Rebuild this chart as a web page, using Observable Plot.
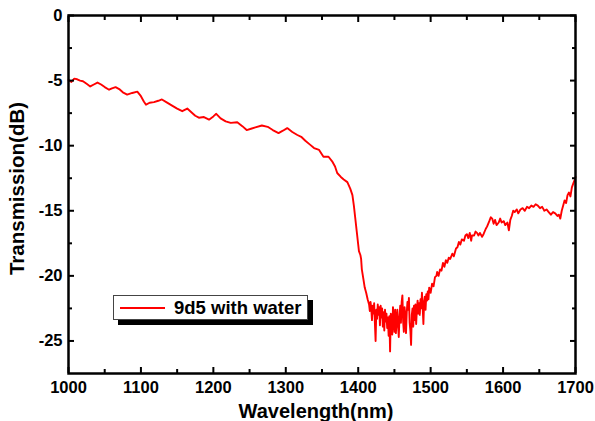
<!DOCTYPE html>
<html>
<head>
<meta charset="utf-8">
<script src="https://cdn.jsdelivr.net/npm/d3@7"></script>
<script src="https://cdn.jsdelivr.net/npm/@observablehq/plot@0.6"></script>
<style>
  html, body { margin: 0; padding: 0; background: #fff; }
  #wrap { position: relative; width: 595px; height: 421px; }
  #legend {
    position: absolute; left: 113px; top: 295px; width: 195px; height: 25px;
    border: 1px solid #444; background: #fff; box-shadow: 5px 5px 0 #000;
    font-family: "Liberation Sans", Arial, sans-serif; font-weight: bold; font-size: 18.5px;
    display: flex; align-items: center; box-sizing: border-box; white-space: nowrap;
  }
  #legend .sw { width: 45px; height: 0; border-top: 2px solid #ff0000; margin-left: 6px; margin-right: 9px; }
</style>
</head>
<body>
<div id="wrap"></div>
<script>
const seriesName = "9d5 with water";
const xTitle = "Wavelength(nm)";
const yTitle = "Transmission(dB)";

const wavelength = [
1000,1004,1008,1012,1016,1020,1025,1030,1035,1040,1045,1050,1056,1060,1065,1070,1075,1081,1088,1095,
1100,1104,1107,1112,1118,1124,1129,1135,1143,1150,1157,1164,1170,1175,1180,1187,1194,1200,1204,1210,
1217,1224,1233,1240,1246,1252,1258,1267,1275,1282,1290,1296,1302,1309,1316,1322,1327,1333,1339,1346,
1352,1359,1364,1368,1371,1376,1380,1385,1389,1392,1394,1396,1398,1400,1401,1403,1404,1405,1407,1409,
1411,1413,1415,1416,1417,1418,1419,1420,1421,1422,1423,1424,1425,1426,1427,1428,1429,1430,1431,1432,
1433,1434,1435,1436,1437,1438,1439,1440,1441,1442,1443,1444,1445,1446,1447,1448,1449,1450,1451,1452,
1453,1454,1455,1456,1457,1458,1459,1460,1461,1462,1463,1464,1465,1466,1467,1468,1469,1470,1471,1472,
1473,1474,1475,1476,1477,1478,1479,1480,1481,1482,1483,1484,1485,1486,1487,1488,1489,1490,1491,1492,
1493,1494,1495,1496,1497,1498,1500,1502,1504,1506,1508,1509,1511,1513,1515,1517,1519,1521,1523,1525,
1527,1530,1532,1535,1537,1539,1541,1543,1546,1548,1550,1552,1554,1556,1557,1560,1562,1564,1566,1568,
1571,1573,1576,1578,1581,1583,1585,1587,1589,1591,1594,1596,1598,1601,1603,1606,1608,1610,1612,1614,
1616,1619,1621,1624,1627,1630,1633,1636,1639,1642,1645,1648,1651,1654,1657,1660,1663,1666,1669,1672,
1675,1677,1679,1681,1683,1685,1687,1689,1691,1693,1695,1697,1699,1700
];
const transmission = [
-4.95,-5.1,-4.85,-4.9,-5.0,-5.05,-5.25,-5.45,-5.3,-5.15,-5.3,-5.5,-5.7,-5.6,-5.5,-5.65,-5.9,-6.08,-5.95,-5.85,
-6.2,-6.6,-6.85,-6.7,-6.65,-6.55,-6.45,-6.65,-6.92,-7.15,-7.35,-7.15,-7.45,-7.7,-7.85,-7.8,-8.0,-7.75,-7.55,-7.9,
-8.13,-8.25,-8.2,-8.5,-8.8,-8.7,-8.6,-8.45,-8.55,-8.8,-9.03,-8.85,-8.65,-8.95,-9.18,-9.35,-9.62,-9.9,-10.18,-10.33,
-10.85,-10.85,-11.2,-11.6,-12.1,-12.4,-12.6,-12.8,-13.3,-13.8,-14.6,-15.6,-16.6,-17.6,-18.1,-18.4,-18.7,-19.5,-20.2,-20.9,
-21.3,-21.8,-22.2,-22.7,-22.0,-22.5,-23.4,-22.3,-22.9,-22.1,-23.6,-25.0,-22.6,-23.3,-22.2,-23.0,-22.4,-23.8,-22.3,-23.2,
-22.5,-23.9,-22.8,-24.2,-22.6,-23.5,-22.9,-24.0,-23.2,-24.6,-23.1,-25.8,-22.9,-23.7,-24.5,-22.4,-23.3,-24.3,-22.6,-24.4,
-23.5,-22.6,-23.8,-24.7,-23.2,-22.3,-23.6,-22.0,-21.5,-23.5,-24.3,-22.4,-23.1,-24.4,-22.8,-22.0,-22.6,-21.7,-23.6,-24.2,
-25.3,-23.0,-22.5,-23.9,-22.3,-23.4,-22.2,-23.7,-22.6,-21.9,-22.9,-22.1,-23.0,-21.8,-22.5,-21.3,-22.4,-23.7,-22.0,-21.6,
-22.6,-21.4,-21.9,-21.2,-21.8,-20.9,-21.3,-20.6,-20.8,-20.1,-20.0,-19.7,-20.0,-19.5,-19.6,-19.0,-19.3,-18.8,-19.0,-18.6,
-18.7,-18.3,-18.5,-17.9,-17.8,-17.4,-17.6,-17.2,-17.3,-16.9,-16.8,-17.1,-16.7,-17.3,-16.9,-16.9,-16.6,-16.7,-16.9,-16.7,
-17.0,-16.8,-16.4,-16.2,-15.8,-15.5,-15.6,-16.0,-15.7,-16.1,-15.9,-15.6,-15.9,-15.8,-16.1,-15.9,-16.5,-15.7,-15.4,-15.0,
-15.1,-14.9,-15.2,-14.9,-14.8,-15.0,-14.7,-14.8,-14.6,-14.7,-14.5,-14.6,-14.8,-14.7,-15.0,-14.9,-15.1,-15.3,-15.1,-15.2,
-15.4,-15.3,-15.6,-15.0,-14.6,-14.2,-14.4,-13.8,-13.6,-13.9,-13.2,-12.9,-12.6,-12.4
];

const xMajor = [1000,1100,1200,1300,1400,1500,1600,1700];
const xMinor = [1050,1150,1250,1350,1450,1550,1650];
const yMajor = [0,-5,-10,-15,-20,-25];
const yMinor = [-2.5,-7.5,-12.5,-17.5,-22.5];

const data = wavelength.map((w, i) => ({w, t: transmission[i]}));
const fmt = d => String(d);
const font = "Liberation Sans, Arial, sans-serif";

const chart = Plot.plot({
  width: 595, height: 421,
  marginLeft: 68, marginRight: 20, marginTop: 15, marginBottom: 48,
  x: {domain: [1000, 1700]},
  y: {domain: [-27.5, 0]},
  style: {fontFamily: font, fontWeight: "bold", fontSize: "16.5px", color: "#000", background: "#fff"},
  marks: [
    Plot.line(data, {x: "w", y: "t", stroke: "#ff0000", strokeWidth: 1.9}),
    Plot.frame({stroke: "#000", strokeWidth: 2.5}),
    Plot.axisX({anchor: "bottom", ticks: xMajor, tickSize: -6, strokeWidth: 2, fill: "none", label: null}),
    Plot.axisX({anchor: "bottom", ticks: xMinor, tickSize: -4, strokeWidth: 2, fill: "none", label: null}),
    Plot.axisX({anchor: "top", ticks: xMajor, tickSize: -6, strokeWidth: 2, fill: "none", label: null}),
    Plot.axisX({anchor: "top", ticks: xMinor, tickSize: -4, strokeWidth: 2, fill: "none", label: null}),
    Plot.axisY({anchor: "left", ticks: yMajor, tickSize: -6, strokeWidth: 2, fill: "none", label: null}),
    Plot.axisY({anchor: "left", ticks: yMinor, tickSize: -4, strokeWidth: 2, fill: "none", label: null}),
    Plot.axisY({anchor: "right", ticks: yMajor, tickSize: -6, strokeWidth: 2, fill: "none", label: null}),
    Plot.axisY({anchor: "right", ticks: yMinor, tickSize: -4, strokeWidth: 2, fill: "none", label: null}),
    Plot.axisX({anchor: "bottom", ticks: xMajor, tickSize: 0, tickPadding: 8, tickFormat: fmt, label: null, fontSize: 16.5}),
    Plot.axisY({anchor: "left", ticks: yMajor, tickSize: 0, tickPadding: 6, tickFormat: fmt, label: null, fontSize: 16.5}),
    Plot.text([xTitle], {frameAnchor: "bottom", dx: -6, dy: 44, fontSize: 20, fontWeight: "bold", fill: "#000"}),
    Plot.text([yTitle], {frameAnchor: "left", dx: -51, dy: -6, rotate: -90, textAnchor: "middle", fontSize: 20.5, fontWeight: "bold", fill: "#000"})
  ]
});

const wrap = document.getElementById("wrap");
wrap.appendChild(chart);
const legend = document.createElement("div");
legend.id = "legend";
const sw = document.createElement("span");
sw.className = "sw";
const lt = document.createElement("span");
lt.textContent = seriesName;
legend.appendChild(sw);
legend.appendChild(lt);
wrap.appendChild(legend);
</script>
</body>
</html>
